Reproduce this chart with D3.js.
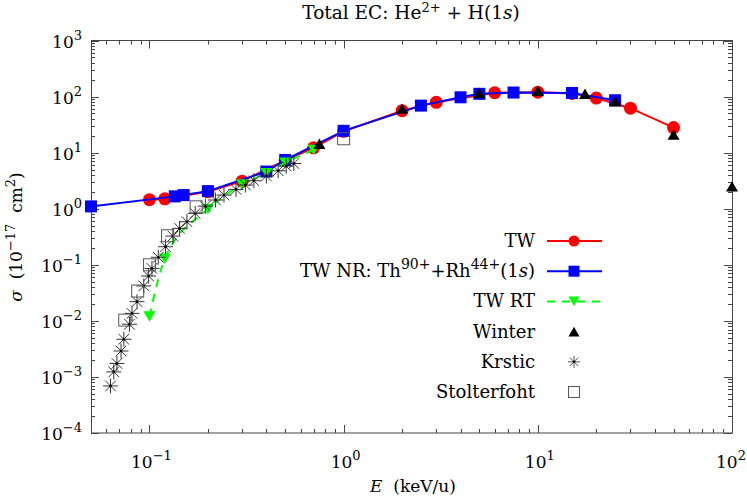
<!DOCTYPE html>
<html lang="en">
<head>
<meta charset="UTF-8">
<title>Total EC</title>
<script src="https://cdn.jsdelivr.net/npm/d3@7"></script>
<style>
    body { margin: 0; background: #fff; }
    svg text { font-family: "DejaVu Serif", "Liberation Serif", serif; }
</style>
</head>
<body>
<div id="graphic"></div>
<script>
    // --- data ---
    var twE = [0.1, 0.12, 0.2, 0.3, 0.5, 0.7, 1, 2, 3, 6, 10, 15, 20, 30, 50];
    var twS = [1.45, 1.5, 2.0, 3.1, 7.3, 12.2, 24, 56, 79, 117, 120, 114, 94, 62, 28];

    var nrE = [0.05, 0.135, 0.15, 0.2, 0.4, 0.5, 1, 2.5, 4, 5, 7.5, 15, 25];
    var nrS = [1.1, 1.66, 1.75, 2.06, 4.6, 7.4, 24.5, 69, 97, 112, 118, 116, 86];

    var rtE = [0.1, 0.12, 0.2, 0.3, 0.4, 0.5, 0.7];
    var rtS = [0.012, 0.128, 0.98, 2.7, 4.3, 6.6, 11.2];

    var winterE = [0.75, 2, 5, 10, 17.5, 25, 50, 100];
    var winterS = [14.4, 61, 117, 127, 112, 82, 21, 2.5];

    var krsticE = [0.063, 0.0655, 0.068, 0.0714, 0.0738, 0.0789, 0.0813, 0.0863, 0.0935, 0.099, 0.103,
                   0.111, 0.121, 0.132, 0.143, 0.156, 0.172, 0.194, 0.219, 0.242, 0.279, 0.312, 0.345,
                   0.4, 0.46, 0.506, 0.554];
    var krsticS = [0.00069, 0.00123, 0.00174, 0.0029, 0.0047, 0.0087, 0.0136, 0.022, 0.042, 0.063, 0.086,
                   0.136, 0.21, 0.325, 0.446, 0.585, 0.826, 1.11, 1.43, 1.75, 2.21, 2.64, 3.15,
                   3.83, 4.75, 5.76, 6.4];

    var stolE = [0.0746, 0.087, 0.1, 0.124, 0.174, 1.0];
    var stolS = [0.0103, 0.034, 0.1, 0.33, 1.08, 17.7];

    var xExp = [-1, 0, 1, 2];
    var yExp = [-4, -3, -2, -1, 0, 1, 2, 3];

    var width = 747, height = 497;
    // plot box (named so they don't clash with window.top)
    var pL = 91, pR = 732, pT = 40.5, pB = 433;

    var svg = d3.select('#graphic').append('svg')
        .attr('width', width).attr('height', height);

    var x = d3.scaleLog().domain([0.05, 100]).range([pL, pR]);
    var y = d3.scaleLog().domain([1e-4, 1e3]).range([pB, pT]);

    function zip(a, b) { return a.map(function(v, i) { return [v, b[i]]; }); }

    // ticks (gnuplot style: inward, mirrored)
    var majX = xExp.map(function(e) { return Math.pow(10, e); });
    var minX = [];
    for (var e = -2; e <= 1; e++) for (var k = 2; k <= 9; k++) {
        var v = k * Math.pow(10, e);
        if (v > 0.05 && v < 100) minX.push(v);
    }
    var majY = yExp.map(function(e) { return Math.pow(10, e); });
    var minY = [];
    for (var e2 = -4; e2 <= 2; e2++) for (var k2 = 2; k2 <= 9; k2++) minY.push(k2 * Math.pow(10, e2));

    var axisColor = '#444';
    var tk = svg.append('g').attr('stroke', axisColor).attr('stroke-width', 1);
    function xt(vals, len) {
        vals.forEach(function(v) {
            var px = Math.round(x(v)) + 0.5;
            tk.append('line').attr('x1', px).attr('x2', px).attr('y1', pB).attr('y2', pB - len);
            tk.append('line').attr('x1', px).attr('x2', px).attr('y1', pT).attr('y2', pT + len);
        });
    }
    function yt(vals, len) {
        vals.forEach(function(v) {
            var py = Math.round(y(v)) + 0.5;
            tk.append('line').attr('y1', py).attr('y2', py).attr('x1', pL).attr('x2', pL + len);
            tk.append('line').attr('y1', py).attr('y2', py).attr('x1', pR).attr('x2', pR - len);
        });
    }
    xt(majX, 8); xt(minX, 4); yt(majY, 8); yt(minY, 4);

    svg.append('rect').attr('x', pL + 0.5).attr('y', pT).attr('width', pR - pL)
        .attr('height', pB - pT).attr('fill', 'none').attr('stroke', axisColor);

    // power-of-ten labels
    function pow10(g, e, px, py, anchor) {
        var t = g.append('text').attr('x', px).attr('y', py).attr('text-anchor', anchor)
            .attr('font-size', 17).attr('fill', '#000');
        t.append('tspan').text('10');
        t.append('tspan').attr('dy', -8).attr('font-size', 13).text(e < 0 ? '\u2212' + (-e) : e);
    }
    var lab = svg.append('g');
    xExp.forEach(function(e) { pow10(lab, e, Math.min(x(Math.pow(10, e)) + 2, 731), 468, 'middle'); });
    yExp.forEach(function(e) { pow10(lab, e, 82, y(Math.pow(10, e)) + 7, 'end'); });

    // title
    var title = svg.append('text').attr('x', 411).attr('y', 19).attr('text-anchor', 'middle')
        .attr('font-size', 18.5);
    title.append('tspan').text('Total EC: He');
    title.append('tspan').attr('dy', -7).attr('font-size', 13).text('2+');
    title.append('tspan').attr('dy', 7).text(' + H(1');
    title.append('tspan').attr('font-style', 'italic').text('s');
    title.append('tspan').text(')');

    // x label
    var xl = svg.append('text').attr('x', 413).attr('y', 492).attr('text-anchor', 'middle').attr('font-size', 17);
    xl.append('tspan').attr('font-style', 'italic').text('E');
    xl.append('tspan').text('\u00a0\u00a0(keV/u)');

    // y label
    var yl = svg.append('text').attr('transform', 'translate(22,237) rotate(-90)')
        .attr('text-anchor', 'middle').attr('font-size', 17);
    yl.append('tspan').attr('font-style', 'italic').text('\u03c3');
    yl.append('tspan').text('\u00a0\u00a0(10');
    yl.append('tspan').attr('dy', -7).attr('font-size', 13).text('\u221217');
    yl.append('tspan').attr('dy', 7).text('\u00a0\u00a0cm');
    yl.append('tspan').attr('dy', -7).attr('font-size', 13).text('2');
    yl.append('tspan').attr('dy', 7).text(')');

    var plot = svg.append('g');
    var line = d3.line().x(function(d) { return x(d[0]); }).y(function(d) { return y(d[1]); });

    // markers
    function circle(g, px, py, r) {
        g.append('circle').attr('cx', px).attr('cy', py).attr('r', r).attr('fill', '#f00');
    }
    function square(g, px, py, s) {
        g.append('rect').attr('x', px - s / 2).attr('y', py - s / 2).attr('width', s).attr('height', s).attr('fill', '#00f');
    }
    function tri(g, px, py, s, down, col) {
        var h = s * 0.87, d = down ? -1 : 1;
        g.append('path').attr('d', 'M' + (px - s / 2) + ',' + (py + d * h / 2) + 'L' + (px + s / 2) + ',' + (py + d * h / 2)
            + 'L' + px + ',' + (py - d * h / 2) + 'Z').attr('fill', col);
    }
    function star(g, px, py, s, col) {
        var r = s / 2, q = r * 0.707;
        g.append('path').attr('d',
            'M' + (px - r) + ',' + py + 'L' + (px + r) + ',' + py +
            'M' + px + ',' + (py - r) + 'L' + px + ',' + (py + r) +
            'M' + (px - q) + ',' + (py - q) + 'L' + (px + q) + ',' + (py + q) +
            'M' + (px - q) + ',' + (py + q) + 'L' + (px + q) + ',' + (py - q))
            .attr('stroke', col).attr('stroke-width', 1).attr('fill', 'none');
        g.append('circle').attr('cx', px).attr('cy', py).attr('r', 1.3).attr('fill', '#000');
    }
    function box(g, px, py, s, col) {
        g.append('rect').attr('x', px - s / 2).attr('y', py - s / 2).attr('width', s).attr('height', s)
            .attr('fill', 'none').attr('stroke', col).attr('stroke-width', 1);
    }

    // TW
    var tw = zip(twE, twS);
    plot.append('path').attr('d', line(tw)).attr('fill', 'none').attr('stroke', '#f00').attr('stroke-width', 2);
    tw.forEach(function(d) { circle(plot, x(d[0]), y(d[1]), 6.5); });

    // TW NR
    var nr = zip(nrE, nrS);
    plot.append('path').attr('d', line(nr)).attr('fill', 'none').attr('stroke', '#00f').attr('stroke-width', 2);
    nr.forEach(function(d) { square(plot, x(d[0]), y(d[1]), 12); });

    // TW RT
    var rt = zip(rtE, rtS);
    plot.append('path').attr('d', line.curve(d3.curveMonotoneX)(rt)).attr('fill', 'none').attr('stroke', '#0f0')
        .attr('stroke-width', 2).attr('stroke-dasharray', '8,7');
    line.curve(d3.curveLinear);
    rt.forEach(function(d) { tri(plot, x(d[0]), y(d[1]), 12, true, '#0f0'); });

    // Winter
    zip(winterE, winterS).forEach(function(d) { tri(plot, x(d[0]), y(d[1]), 12, false, '#000'); });

    // Krstic
    zip(krsticE, krsticS).forEach(function(d) { star(plot, x(d[0]), y(d[1]), 15, '#333'); });

    // Stolterfoht
    zip(stolE, stolS).forEach(function(d) { box(plot, x(d[0]), y(d[1]), 12, '#555'); });

    // legend
    var names = ['TW', 'TW NR', 'TW RT', 'Winter', 'Krstic', 'Stolterfoht'];
    var lg = svg.append('g');
    var lx = 535, sx1 = 547, sx2 = 602, mx = 574;
    names.forEach(function(n, i) {
        var ly = 241 + i * 30.2;
        var t = lg.append('text').attr('x', lx).attr('y', ly + 6).attr('text-anchor', 'end').attr('font-size', 18);
        if (i === 1) {
            t.append('tspan').text('TW NR: Th');
            t.append('tspan').attr('dy', -8).attr('font-size', 14).text('90+');
            t.append('tspan').attr('dy', 8).text('+Rh');
            t.append('tspan').attr('dy', -8).attr('font-size', 14).text('44+');
            t.append('tspan').attr('dy', 8).text('(1');
            t.append('tspan').attr('font-style', 'italic').text('s');
            t.append('tspan').text(')');
        } else {
            t.text(n);
        }
        if (i === 0) {
            lg.append('line').attr('x1', sx1).attr('x2', sx2).attr('y1', ly).attr('y2', ly).attr('stroke', '#f00').attr('stroke-width', 2);
            circle(lg, mx, ly, 5.5);
        } else if (i === 1) {
            lg.append('line').attr('x1', sx1).attr('x2', sx2).attr('y1', ly).attr('y2', ly).attr('stroke', '#00f').attr('stroke-width', 2);
            square(lg, mx, ly, 11);
        } else if (i === 2) {
            lg.append('line').attr('x1', sx1).attr('x2', sx2).attr('y1', ly).attr('y2', ly).attr('stroke', '#0f0')
                .attr('stroke-width', 2).attr('stroke-dasharray', '8,7');
            tri(lg, mx, ly, 11, true, '#0f0');
        } else if (i === 3) {
            tri(lg, mx, ly, 11, false, '#000');
        } else if (i === 4) {
            star(lg, mx, ly, 12, '#555');
        } else {
            box(lg, mx, ly, 11, '#555');
        }
    });
</script>
</body>
</html>
